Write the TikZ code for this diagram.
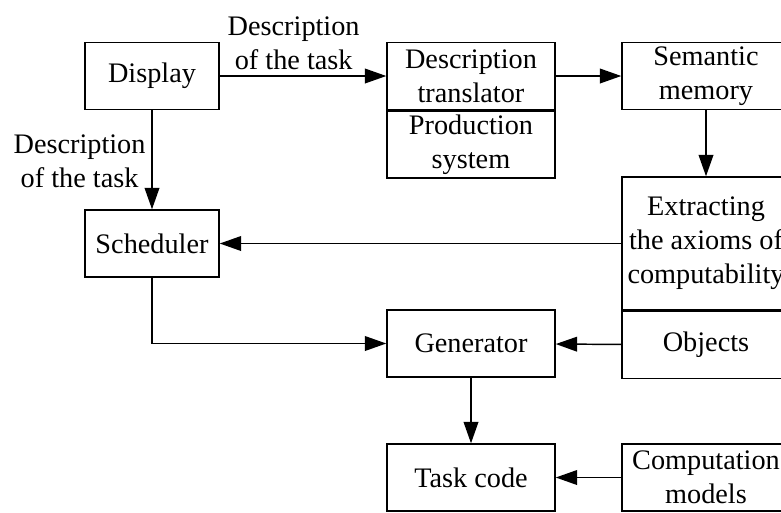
\documentclass[tikz,border=0pt]{standalone}
\usepackage{fontspec}
\setmainfont{Liberation Serif}
\usetikzlibrary{arrows.meta,positioning}
\tikzstyle{block} = [rectangle, draw=black, line width=1.1pt, minimum width=100.5pt, minimum height=50.25pt, inner sep=0pt, align=center]
\tikzstyle{wideblock} = [block, minimum width=126pt]
\tikzstyle{arrow} = [line width=1.1pt, -{Triangle[length=16pt,width=11pt]}]

\begin{document}
\begin{tikzpicture}[
            x=0.75pt, y=-0.75pt,
            every node/.style={align=center, font=\fontsize{21.2}{25.5}\selectfont}
        ]
            \clip (0,0) rectangle (781,512);
            % Nodes
            \node (display) [block] at (152,76) {Display};
            \node (translator) [wideblock] at (471,76) {Description\\translator};
            \node (production) [wideblock, below=0pt of translator] {Production\\system};
            \node (memory) [wideblock] at (706,76) {Semantic\\memory};
            \node (axioms) [wideblock, minimum height=99.75pt] at (706,243.5) {Extracting\\the axioms of\\computability};
            \node (objects) [wideblock, below=0pt of axioms] {Objects};
            \node (scheduler) [block] at (152,243.5) {Scheduler};
            \node (generator) [wideblock] at (471,343.5) {Generator};
            \node (taskcode) [wideblock] at (471,477.5) {Task code};
            \node (models) [wideblock] at (706,477.5) {Computation\\models};

            % Arrows
            \draw [arrow] (display) -- node[above, xshift=-7pt, yshift=1pt] {Description\\of the task} (translator);
            \draw [arrow] (display) -- node[left, xshift=-1pt, yshift=-1pt] {Description\\of the task} (scheduler);
            \draw [arrow] (translator) -- (memory);
            \draw [arrow] (memory) -- (axioms);
            \draw [arrow] (axioms) -- (scheduler);
            \draw [arrow] (scheduler.south) |- (generator.west);
            \draw [arrow] (objects) -- (generator);
            \draw [arrow] (generator) -- (taskcode);
            \draw [arrow] (models) -- (taskcode);
        \end{tikzpicture}
\end{document}
